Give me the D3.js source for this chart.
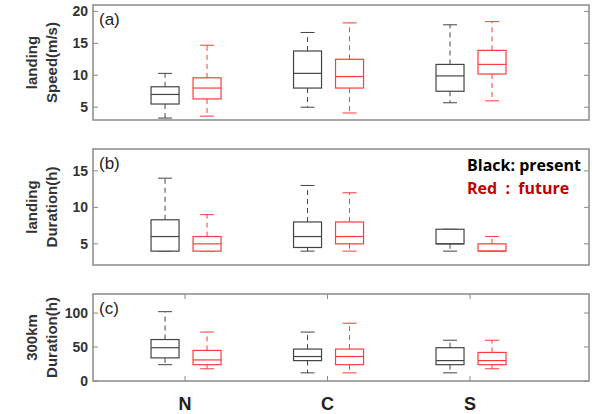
<!DOCTYPE html>
<html>
<head>
<meta charset="utf-8">
<script src="https://cdn.jsdelivr.net/npm/d3@7"></script>
<style>
body { margin: 0; background: #fff; }
svg { display: block; }
text { font-family: "Liberation Sans", Arial, sans-serif; }
</style>
</head>
<body>
<svg id="chart" width="592" height="414"></svg>
<script>
const regions = ['N', 'C', 'S'];

// [min, q1, median, q3, max]
const speedPresent = [[3.3, 5.5, 7.0, 8.2, 10.3], [5.0, 8.0, 10.3, 13.8, 16.7], [5.7, 7.5, 9.9, 11.7, 17.9]];
const speedFuture = [[3.6, 6.3, 8.0, 9.6, 14.7], [4.1, 8.0, 9.8, 12.5, 18.2], [6.0, 10.2, 11.7, 13.9, 18.4]];
const landDurPresent = [[4, 4, 6, 8.3, 14], [4, 4.5, 6, 8, 13], [4, 5, 5, 7, 7]];
const landDurFuture = [[4, 4, 5, 6, 9], [4, 5, 6, 8, 12], [4, 4, 4, 5, 6]];
const dur300Present = [[24, 34, 49, 61, 102], [12, 30, 36, 47, 72], [12, 24, 30, 49, 60]];
const dur300Future = [[18, 24, 31, 45, 72], [12, 24, 36, 47, 85], [18, 24, 30, 42, 60]];

const panels = [
  { tag: '(a)', lines: ['landing', 'Speed(m/s)'], top: 5, bottom: 120, domain: [3, 21], ticks: [5, 10, 15, 20], present: speedPresent, future: speedFuture },
  { tag: '(b)', lines: ['landing', 'Duration(h)'], top: 149, bottom: 265, domain: [2.1, 18], ticks: [5, 10, 15], present: landDurPresent, future: landDurFuture },
  { tag: '(c)', lines: ['300km', 'Duration(h)'], top: 294, bottom: 381, domain: [0, 128], ticks: [0, 50, 100], present: dur300Present, future: dur300Future }
];

const left = 93, right = 589;
const frameColor = '#8a8a8a';
const blackColor = '#444';
const redColor = '#ff3b3b';

const svg = d3.select('#chart');
const x = d3.scaleLinear([0.354, 3.835], [left, right]);
const offset = { present: -20, future: 22 };
const boxW = 28, capW = 14;

panels.forEach((p, pi) => {
  const y = d3.scaleLinear(p.domain, [p.bottom, p.top]);
  const g = svg.append('g').attr('class', 'panel');

  // frame
  g.append('rect')
    .attr('x', left).attr('y', p.top)
    .attr('width', right - left).attr('height', p.bottom - p.top)
    .style('fill', 'none').style('stroke', frameColor).style('stroke-width', 1.5);

  // y ticks left (inside) and right (inside)
  g.selectAll('line.ytl').data(p.ticks).join('line')
    .attr('class', 'ytl')
    .attr('x1', left).attr('x2', left + 5)
    .attr('y1', d => y(d)).attr('y2', d => y(d))
    .style('stroke', frameColor);
  g.selectAll('line.ytr').data(p.ticks).join('line')
    .attr('class', 'ytr')
    .attr('x1', right).attr('x2', right - 5)
    .attr('y1', d => y(d)).attr('y2', d => y(d))
    .style('stroke', frameColor);
  g.selectAll('text.ylab').data(p.ticks).join('text')
    .attr('class', 'ylab')
    .attr('x', left - 5).attr('y', d => y(d))
    .attr('dy', '0.35em')
    .attr('text-anchor', 'end')
    .style('font-size', '14px').style('font-weight', 'bold').style('fill', '#333')
    .text(d => d);

  // x ticks for bottom panel
  if (pi === 2) {
    g.selectAll('line.xtb').data(regions).join('line')
      .attr('x1', (d, i) => x(i + 1)).attr('x2', (d, i) => x(i + 1))
      .attr('y1', p.bottom).attr('y2', p.bottom - 5)
      .style('stroke', frameColor);
    g.selectAll('line.xtt').data(regions).join('line')
      .attr('x1', (d, i) => x(i + 1)).attr('x2', (d, i) => x(i + 1))
      .attr('y1', p.top).attr('y2', p.top + 5)
      .style('stroke', frameColor);
    g.selectAll('text.xlab').data(regions).join('text')
      .attr('x', (d, i) => x(i + 1)).attr('y', 410)
      .attr('text-anchor', 'middle')
      .style('font-size', '18px').style('font-weight', 'bold').style('fill', '#222')
      .text(d => d);
  }

  // y axis title
  const cy = (p.top + p.bottom) / 2;
  p.lines.forEach((t, i) => {
    g.append('text')
      .attr('transform', `translate(${[37 + i * 20, cy]}) rotate(-90)`)
      .attr('text-anchor', 'middle')
      .style('font-size', '15px').style('font-weight', 'bold').style('fill', '#333')
      .text(t);
  });

  // panel tag
  g.append('text')
    .attr('x', left + 6).attr('y', p.top + 20)
    .style('font-size', '17px').style('fill', '#222')
    .text(p.tag);

  // boxes
  const series = [
    { key: 'present', color: blackColor, values: p.present },
    { key: 'future', color: redColor, values: p.future }
  ];
  series.forEach(s => {
    const bg = g.selectAll(`g.box-${s.key}`).data(s.values).join('g')
      .attr('class', `box-${s.key}`)
      .attr('transform', (d, i) => `translate(${x(i + 1) + offset[s.key]},0)`);
    // whiskers
    bg.append('line')
      .attr('x1', 0).attr('x2', 0)
      .attr('y1', d => y(d[3])).attr('y2', d => y(d[4]))
      .style('stroke', s.color).style('stroke-dasharray', '5,4');
    bg.append('line')
      .attr('x1', 0).attr('x2', 0)
      .attr('y1', d => y(d[1])).attr('y2', d => y(d[0]))
      .style('stroke', s.color).style('stroke-dasharray', '5,4');
    // caps
    bg.append('line')
      .attr('x1', -capW / 2).attr('x2', capW / 2)
      .attr('y1', d => y(d[4])).attr('y2', d => y(d[4]))
      .style('stroke', s.color);
    bg.append('line')
      .attr('x1', -capW / 2).attr('x2', capW / 2)
      .attr('y1', d => y(d[0])).attr('y2', d => y(d[0]))
      .style('stroke', s.color);
    // box
    bg.append('rect')
      .attr('x', -boxW / 2).attr('width', boxW)
      .attr('y', d => y(d[3])).attr('height', d => y(d[1]) - y(d[3]))
      .style('fill', '#fff').style('stroke', s.color).style('stroke-width', 1.2);
    // median
    bg.append('line')
      .attr('x1', -boxW / 2).attr('x2', boxW / 2)
      .attr('y1', d => y(d[2])).attr('y2', d => y(d[2]))
      .style('stroke', s.color).style('stroke-width', 1.2);
  });

  // legend in panel (b)
  if (pi === 1) {
    g.append('text')
      .attr('x', 467).attr('y', p.top + 22)
      .style('font-family', '"Open Sans", sans-serif')
      .style('font-size', '16px').style('font-weight', 'bold').style('fill', '#000')
      .text('Black: present');
    g.append('text')
      .attr('x', 467).attr('y', p.top + 45)
      .attr('xml:space', 'preserve')
      .style('white-space', 'pre')
      .style('font-family', '"Open Sans", sans-serif')
      .style('font-size', '16px').style('font-weight', 'bold').style('fill', '#c00000')
      .text('Red  :  future');
  }
});
</script>
</body>
</html>
